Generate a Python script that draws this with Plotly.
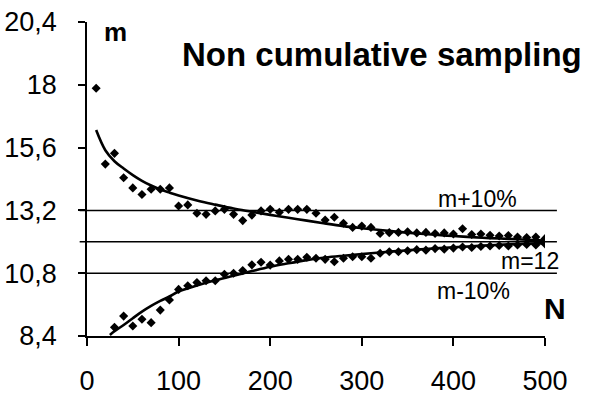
import plotly.graph_objects as go

# ---- data ----
N_dots_up = [10, 20, 30, 40, 50, 60, 70, 80, 90, 100, 110, 120, 130, 140, 150, 160, 170, 180, 190, 200,
             210, 220, 230, 240, 250, 260, 270, 280, 290, 300, 310, 320, 330, 340, 350, 360, 370, 380,
             390, 400, 410, 420, 430, 440, 450, 460, 470, 480, 490, 500]
dots_up = [17.87, 14.97, 15.38, 14.45, 14.06, 13.81, 14.01, 14.01, 14.06, 13.37, 13.41, 13.09, 13.05,
           13.18, 13.24, 13.05, 12.81, 13.02, 13.18, 13.24, 13.13, 13.24, 13.24, 13.24, 13.09, 12.83,
           12.94, 12.71, 12.55, 12.60, 12.55, 12.32, 12.35, 12.36, 12.38, 12.34, 12.36, 12.32, 12.34,
           12.30, 12.50, 12.28, 12.30, 12.25, 12.22, 12.24, 12.18, 12.16, 12.18, 12.12]

N_dots_low = [30, 40, 50, 60, 70, 80, 90, 100, 110, 120, 130, 140, 150, 160, 170, 180, 190, 200,
              210, 220, 230, 240, 250, 260, 270, 280, 290, 300, 310, 320, 330, 340, 350, 360, 370, 380,
              390, 400, 410, 420, 430, 440, 450, 460, 470, 480, 490, 500]
dots_low = [8.73, 9.16, 8.78, 9.04, 8.91, 9.39, 9.78, 10.18, 10.32, 10.44, 10.51, 10.51, 10.76, 10.80,
            10.90, 11.12, 11.22, 11.11, 11.27, 11.33, 11.33, 11.41, 11.37, 11.33, 11.24, 11.37, 11.43,
            11.43, 11.37, 11.56, 11.62, 11.62, 11.66, 11.70, 11.68, 11.74, 11.72, 11.76, 11.80, 11.78,
            11.82, 11.84, 11.86, 11.84, 11.88, 11.90, 11.88, 11.92]

N_curve_up = [10, 20, 30, 40, 50, 60, 70, 80, 90, 100, 120, 140, 160, 180, 200, 220, 240, 260, 280,
              300, 320, 340, 360, 380, 400, 420, 440, 460, 480, 500]
curve_up = [16.27, 15.50, 15.08, 14.80, 14.55, 14.33, 14.15, 14.00, 13.88, 13.77, 13.58, 13.42, 13.27,
            13.15, 13.03, 12.92, 12.81, 12.70, 12.60, 12.52, 12.45, 12.38, 12.32, 12.27, 12.22, 12.18,
            12.14, 12.11, 12.08, 12.05]

N_curve_low = [25, 30, 40, 50, 60, 70, 80, 90, 100, 120, 140, 160, 180, 200, 220, 240, 260, 280, 300,
               320, 340, 360, 380, 400, 420, 440, 460, 480, 500]
curve_low = [8.44, 8.58, 8.82, 9.08, 9.33, 9.55, 9.74, 9.91, 10.10, 10.33, 10.53, 10.70, 10.88, 11.05,
             11.18, 11.30, 11.40, 11.47, 11.53, 11.59, 11.65, 11.70, 11.75, 11.79, 11.83, 11.87, 11.90,
             11.93, 11.95]

ref_levels = [13.2, 12.0, 10.8]
ref_labels = ["m+10%", "m=12", "m-10%"]

y_ticks = [8.4, 10.8, 13.2, 15.6, 18, 20.4]
y_ticktext = ["8,4", "10,8", "13,2", "15,6", "18", "20,4"]
x_ticks = [0, 100, 200, 300, 400, 500]

FONT = "Liberation Sans, Arial, sans-serif"

fig = go.Figure()
fig.add_trace(go.Scatter(x=N_curve_up, y=curve_up, mode="lines",
                         line=dict(color="black", width=2.6, shape="spline"), hoverinfo="skip"))
fig.add_trace(go.Scatter(x=N_curve_low, y=curve_low, mode="lines",
                         line=dict(color="black", width=2.6, shape="spline"), hoverinfo="skip"))
fig.add_trace(go.Scatter(x=N_dots_up, y=dots_up, mode="markers",
                         marker=dict(symbol="diamond", size=7, color="black")))
fig.add_trace(go.Scatter(x=N_dots_low, y=dots_low, mode="markers",
                         marker=dict(symbol="diamond", size=7, color="black")))

for lv in ref_levels:
    fig.add_shape(type="line", xref="paper", yref="y", x0=-0.016, x1=1.026, y0=lv, y1=lv,
                  line=dict(color="black", width=1.5), layer="below")

ann_pos = [(0.852, 0.436), (0.967, 0.239), (0.843, 0.143)]
for (ax, ay), txt in zip(ann_pos, ref_labels):
    fig.add_annotation(xref="paper", yref="paper", x=ax, y=ay, text=txt, showarrow=False,
                       xanchor="center", yanchor="middle", font=dict(family=FONT, size=23, color="black"))

fig.add_annotation(xref="paper", yref="paper", x=0.063, y=0.968, text="<b>m</b>", showarrow=False,
                   xanchor="center", yanchor="middle", font=dict(family=FONT, size=26, color="black"))
fig.add_annotation(xref="paper", yref="paper", x=0.644, y=0.898, text="<b>Non cumulative sampling</b>",
                   showarrow=False, xanchor="center", yanchor="middle",
                   font=dict(family=FONT, size=33, color="black"))
fig.add_annotation(xref="paper", yref="paper", x=1.022, y=0.086, text="<b>N</b>", showarrow=False,
                   xanchor="center", yanchor="middle", font=dict(family=FONT, size=30, color="black"))

fig.update_layout(
    width=589, height=400,
    margin=dict(l=87, r=44, t=22, b=64, autoexpand=False),
    paper_bgcolor="white", plot_bgcolor="white",
    showlegend=False,
    separators=", ",
    font=dict(family=FONT, color="black"),
    xaxis=dict(range=[0, 500], tickvals=x_ticks, showgrid=False, zeroline=False, automargin=False,
               showline=True, linecolor="black", linewidth=1.5,
               ticks="outside", ticklen=8, tickwidth=1.5, tickcolor="black",
               tickfont=dict(family=FONT, size=27, color="black"), ticklabelstandoff=12),
    yaxis=dict(range=[8.4, 20.4], tickvals=y_ticks, ticktext=y_ticktext, showgrid=False,
               automargin=False,
               zeroline=False, showline=True, linecolor="black", linewidth=1.5,
               ticks="outside", ticklen=7, tickwidth=1.5, tickcolor="black",
               tickfont=dict(family=FONT, size=27, color="black"), ticklabelstandoff=16),
)

fig.write_html("out.html")
